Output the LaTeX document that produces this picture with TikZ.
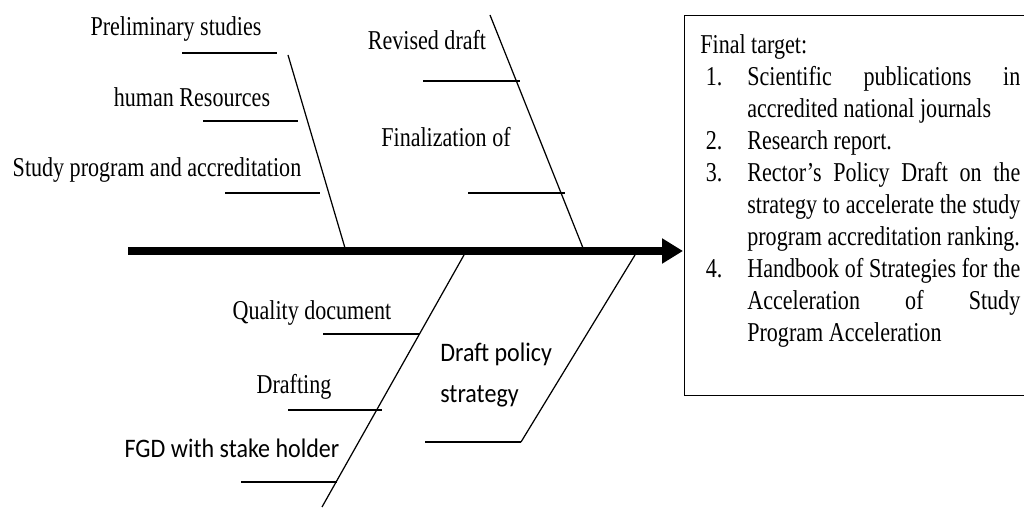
\documentclass[tikz,border=0pt]{standalone}
\usepackage{fontspec}
\setmainfont{Liberation Serif}[FakeStretch=0.81]
\newfontfamily\calibri{Carlito}[FakeStretch=0.9]
\usepackage{enumitem}
\usetikzlibrary{arrows.meta, positioning}

\begin{document}
\begin{tikzpicture}[x=0.02cm, y=-0.02cm,
    spine/.style={line width=4.5pt, arrows={-Triangle[length=0.42cm, width=0.48cm]}},
    bone/.style={line width=0.7pt},
    twig/.style={line width=0.7pt},
    cause/.style={inner sep=0pt, anchor=base, font=\fontsize{15.5}{18}\selectfont},
    sanscause/.style={inner sep=0pt, anchor=base, align=left, font=\calibri\fontsize{15.2}{23.4}\selectfont}]
    \clip (0,0) rectangle (1024,509);

    % Head of the fish
    \node[draw, line width=0.7pt, anchor=north west, inner sep=0pt, minimum width=6.92cm, minimum height=7.6cm] (target) at (684,15) {};
    \node[anchor=north west, inner sep=0pt] (goals) at ([shift={(16,19)}]target.north west) {%
        \begin{minipage}{6.4cm}
        \fontsize{15.5}{18.2}\selectfont\hyphenpenalty=10000
        Final target:
        \begin{enumerate}[leftmargin=0.94cm, labelsep=0.5cm, topsep=0pt, partopsep=0pt, itemsep=0pt, parsep=0pt]
            \item Scientific publications in\linebreak accredited national journals
            \item Research report.
            \item Rector's Policy Draft on the\linebreak strategy to accelerate the study\linebreak program accreditation ranking.
            \item Handbook of Strategies for the\linebreak Acceleration of Study\linebreak Program Acceleration
        \end{enumerate}
        \end{minipage}};

    % Spine and bones
    \coordinate (tail) at (128,251);
    \coordinate (head) at (683,251);
    \coordinate (b1top) at (288,55);
    \coordinate (b1foot) at (345,248);
    \coordinate (b2top) at (490,15);
    \coordinate (b2foot) at (583,248);
    \coordinate (b3top) at (464,255);
    \coordinate (b3foot) at (322,507);
    \coordinate (b4top) at (635,255);
    \coordinate (b4foot) at (521,442);

    \draw[spine] (tail) -- (head);
    \draw[bone] (b1top) -- (b1foot);
    \draw[bone] (b2top) -- (b2foot);
    \draw[bone] (b3top) -- (b3foot);
    \draw[bone] (b4top) -- (b4foot);

    % Causes
    \node[cause] (prelim) at (176,36) {Preliminary studies};
    \node[cause] (hr) at (192,107) {human Resources};
    \node[cause] (study) at (157,177) {Study program and accreditation};
    \node[cause] (revised) at (427,50) {Revised draft};
    \node[cause] (finalize) at (446,147) {Finalization of};
    \node[cause] (quality) at (312,320) {Quality document};
    \node[cause] (drafting) at (294,394) {Drafting};
    \node[sanscause] (fgd) at (232,458) {FGD with stake holder};
    \node[sanscause, anchor=base west] (policy) at (440,403) {Draft policy\\strategy};

    % Twigs under the causes
    \coordinate (prelim-l) at (182,53);   \coordinate (prelim-r) at (277,53);
    \coordinate (hr-l) at (203,121);      \coordinate (hr-r) at (298,121);
    \coordinate (study-l) at (225,193);   \coordinate (study-r) at (320,193);
    \coordinate (revised-l) at (423,81);  \coordinate (revised-r) at (520,81);
    \coordinate (finalize-l) at (468,193); \coordinate (finalize-r) at (565,193);
    \coordinate (quality-l) at (323,334); \coordinate (quality-r) at (420,334);
    \coordinate (drafting-l) at (288,410); \coordinate (drafting-r) at (382,410);
    \coordinate (fgd-l) at (241,482);     \coordinate (fgd-r) at (337,482);
    \coordinate (policy-l) at (425,442);

    \draw[twig] (prelim-l) -- (prelim-r);
    \draw[twig] (hr-l) -- (hr-r);
    \draw[twig] (study-l) -- (study-r);
    \draw[twig] (revised-l) -- (revised-r);
    \draw[twig] (finalize-l) -- (finalize-r);
    \draw[twig] (quality-l) -- (quality-r);
    \draw[twig] (drafting-l) -- (drafting-r);
    \draw[twig] (fgd-l) -- (fgd-r);
    \draw[twig] (policy-l) -- (b4foot);
\end{tikzpicture}
\end{document}
